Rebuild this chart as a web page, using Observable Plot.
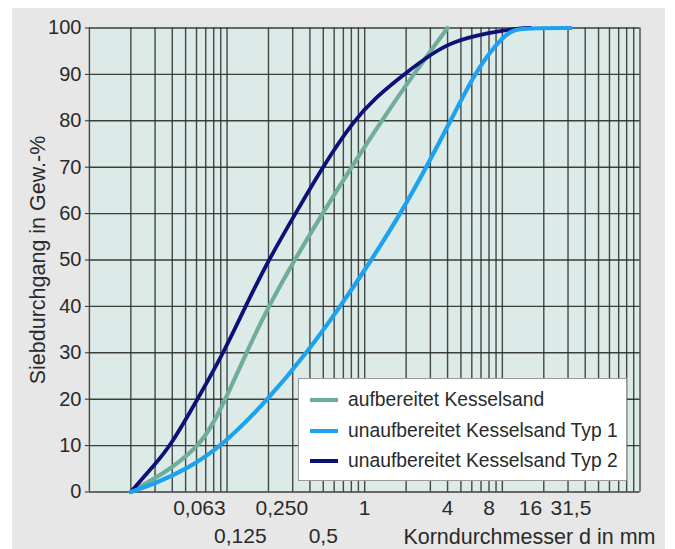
<!DOCTYPE html>
<html>
<head>
<meta charset="utf-8">
<script src="https://cdn.jsdelivr.net/npm/d3@7"></script>
<script src="https://cdn.jsdelivr.net/npm/@observablehq/plot@0.6"></script>
<style>
  html, body { margin: 0; padding: 0; background: #fff; }
  #wrap { position: relative; width: 675px; height: 549px; overflow: hidden; background: #fff; font-family: "Liberation Sans", Arial, sans-serif; }
  #panel { position: absolute; left: 12px; top: 8px; width: 653px; height: 545px; background: #e7e7e7; }
  #chart { position: absolute; left: 0; top: 0; }
  #legend { position: absolute; left: 298px; top: 378px; width: 327px; height: 101px; background: #fff; border: 1px solid #9a9a9a; }
  .sw { position: absolute; left: 11px; width: 28px; height: 4px; }
  .lab { position: absolute; left: 49px; white-space: nowrap; font-size: 19.3px; color: #2a2a2a; line-height: 24px; }
</style>
</head>
<body>
<div id="wrap">
  <div id="panel"></div>
  <div id="chart"></div>
  <div id="legend"></div>
</div>
<script>
// Series (grain size in mm, passing in %)
const seriesNames = ["aufbereitet Kesselsand", "unaufbereitet Kesselsand Typ 1", "unaufbereitet Kesselsand Typ 2"];
const seriesColors = ["#6fae9a", "#1ca2ef", "#0d1079"];

const aufX = [0.02, 0.03, 0.0388, 0.063, 0.08, 0.0975, 0.138, 0.2, 0.309, 0.493, 0.802, 1.324, 2.26, 3.99];
const aufY = [0, 3, 5, 10, 15, 20, 30, 40, 50, 60, 70, 80, 90, 100];

const typ1X = [0.02, 0.03, 0.0516, 0.0927, 0.2, 0.38, 0.667, 1.12, 1.82, 2.81, 4.2, 6.27, 8.2, 10.9, 13.1, 31.5];
const typ1Y = [0, 1.8, 5, 10, 20, 30, 40, 50, 60, 70, 80, 90, 95, 99, 100, 100];

const typ2X = [0.02, 0.03, 0.0389, 0.061, 0.0943, 0.136, 0.2, 0.314, 0.493, 0.829, 1.198, 1.914, 3.27, 4.34, 7.8, 13.55, 16];
const typ2Y = [0, 6, 10, 20, 30, 40, 50, 60, 70, 80, 85, 90, 95, 97, 99, 100, 100];

// Grid and ticks
const gridX = [0.01, 0.02, 0.03, 0.04, 0.05, 0.06, 0.07, 0.08, 0.09,
               0.1, 0.2, 0.3, 0.4, 0.5, 0.6, 0.7, 0.8, 0.9,
               1, 2, 3, 4, 5, 6, 7, 8, 9,
               10, 20, 30, 40, 50, 60, 70, 80, 90, 100];
const yTicks = [0, 10, 20, 30, 40, 50, 60, 70, 80, 90, 100];
const xTicksRow1 = [0.063, 0.25, 1, 4, 8, 16, 31.5];
const xLabelsRow1 = ["0,063", "0,250", "1", "4", "8", "16", "31,5"];
const xTicksRow2 = [0.125, 0.5];
const xLabelsRow2 = ["0,125", "0,5"];
const yTitle = "Siebdurchgang in Gew.-%";
const xTitle = "Korndurchmesser d in mm";

const toRows = (xs, ys, name) => xs.map((x, i) => ({x, y: ys[i], name}));
const aufData = toRows(aufX, aufY, seriesNames[0]);
const typ1Data = toRows(typ1X, typ1Y, seriesNames[1]);
const typ2Data = toRows(typ2X, typ2Y, seriesNames[2]);

const font = "'Liberation Sans', Arial, sans-serif";
const textColor = "#2a2a2a";

const chart = Plot.plot({
  width: 675,
  height: 549,
  marginLeft: 88.9,
  marginRight: 35.5,
  marginTop: 27.5,
  marginBottom: 57.5,
  style: {background: "transparent", fontFamily: font, fontSize: "20px", color: textColor},
  x: {type: "log", domain: [0.01, 100], axis: null},
  y: {domain: [0, 100], axis: null},
  marks: [
    Plot.frame({fill: "#dcebe8", stroke: null}),
    Plot.ruleX(gridX, {stroke: "#2a2a2a", strokeWidth: 1.4, strokeOpacity: 0.85}),
    Plot.ruleY(yTicks, {stroke: "#2a2a2a", strokeWidth: 1.4, strokeOpacity: 0.9}),
    Plot.axisY({ticks: yTicks, tickSize: 4, tickPadding: 4, label: null, fontSize: 20, stroke: "#2e2e2e"}),
    Plot.text(xTicksRow1, {x: d => d, text: (d, i) => xLabelsRow1[i], frameAnchor: "bottom", dy: 16.5, lineAnchor: "middle", fontSize: 21, fill: textColor}),
    Plot.text(xTicksRow2, {x: d => d, text: (d, i) => xLabelsRow2[i], frameAnchor: "bottom", dy: 44.5, lineAnchor: "middle", fontSize: 21, fill: textColor}),
    Plot.line(aufData, {x: "x", y: "y", stroke: seriesColors[0], strokeWidth: 4.2, curve: "basis"}),
    Plot.line(typ2Data, {x: "x", y: "y", stroke: seriesColors[2], strokeWidth: 3.8, curve: "basis"}),
    Plot.line(typ1Data, {x: "x", y: "y", stroke: seriesColors[1], strokeWidth: 4.2, curve: "basis"}),
    Plot.text([yTitle], {text: d => d, frameAnchor: "left", textAnchor: "middle", rotate: -90, dx: -51, lineAnchor: "middle", fontSize: 21.5, fill: textColor}),
    Plot.text([xTitle], {text: d => d, frameAnchor: "bottom-right", textAnchor: "end", dx: 15.5, dy: 45, lineAnchor: "middle", fontSize: 21.5, fill: textColor})
  ]
});
document.getElementById("chart").appendChild(chart);

// Legend
const legend = document.getElementById("legend");
const rowCenters = [21, 52, 82];
seriesNames.forEach((name, i) => {
  const sw = document.createElement("div");
  sw.className = "sw";
  sw.style.top = (rowCenters[i] - 2) + "px";
  sw.style.background = seriesColors[i];
  legend.appendChild(sw);
  const lab = document.createElement("div");
  lab.className = "lab";
  lab.style.top = (rowCenters[i] - 12) + "px";
  lab.textContent = name;
  legend.appendChild(lab);
});
</script>
</body>
</html>
